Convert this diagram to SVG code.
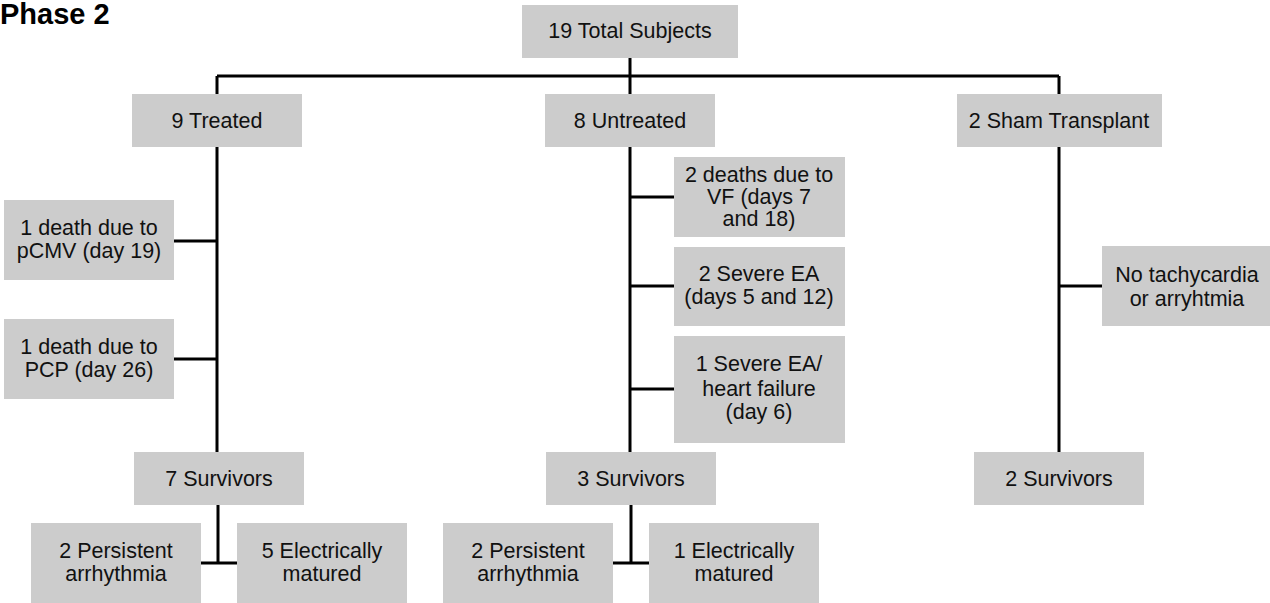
<svg xmlns="http://www.w3.org/2000/svg" width="1270" height="603" viewBox="0 0 1270 603">
<style>
.box{fill:#cccccc;}
.t{font-family:"Liberation Sans",Arial,sans-serif;font-size:21.5px;fill:#111;text-anchor:middle;}
.title{font-family:"Liberation Sans",Arial,sans-serif;font-size:29px;font-weight:bold;fill:#000;}
.c{stroke:#000;stroke-width:3;fill:none;}
</style>
<rect width="1270" height="603" fill="#fff"/>
<text class="title" x="0" y="24">Phase 2</text>
<g id="connectors">
<path class="c" d="M630,58 V94 M217,76 H1059 M217,76 V94 M1059,76 V94"/>
<path class="c" d="M217,147 V452 M174,241 H217 M174,359 H217"/>
<path class="c" d="M630,147 V452 M630,197 H674 M630,286 H674 M630,389 H674"/>
<path class="c" d="M1059,147 V452 M1059,286 H1102"/>
<path class="c" d="M218,505 V563 M201,563 H237"/>
<path class="c" d="M631,505 V563 M613,563 H649"/>
</g>
<g id="total"><rect class="box" x="522" y="5" width="216" height="53"/><text class="t" x="630" y="38">19 Total Subjects</text></g>
<g id="treated"><rect class="box" x="132" y="94" width="170" height="53"/><text class="t" x="217" y="128">9 Treated</text></g>
<g id="untreated"><rect class="box" x="545" y="94" width="170" height="53"/><text class="t" x="630" y="128">8 Untreated</text></g>
<g id="sham"><rect class="box" x="957" y="94" width="205" height="53"/><text class="t" x="1059" y="128">2 Sham Transplant</text></g>
<g id="pcmv"><rect class="box" x="4" y="200" width="170" height="80"/><text class="t" x="89" y="235">1 death due to</text><text class="t" x="89" y="258">pCMV (day 19)</text></g>
<g id="pcp"><rect class="box" x="4" y="319" width="170" height="80"/><text class="t" x="89" y="354">1 death due to</text><text class="t" x="89" y="377">PCP (day 26)</text></g>
<g id="vf"><rect class="box" x="674" y="157" width="171" height="80"/><text class="t" x="759" y="182">2 deaths due to</text><text class="t" x="759" y="204">VF (days 7</text><text class="t" x="759" y="226">and 18)</text></g>
<g id="ea"><rect class="box" x="674" y="247" width="171" height="79"/><text class="t" x="759" y="281">2 Severe EA</text><text class="t" x="759" y="304">(days 5 and 12)</text></g>
<g id="hf"><rect class="box" x="674" y="336" width="171" height="107"/><text class="t" x="759" y="371">1 Severe EA/</text><text class="t" x="759" y="396">heart failure</text><text class="t" x="759" y="419">(day 6)</text></g>
<g id="notachy"><rect class="box" x="1102" y="246" width="170" height="80"/><text class="t" x="1187" y="282">No tachycardia</text><text class="t" x="1187" y="306">or arryhtmia</text></g>
<g id="surv7"><rect class="box" x="134" y="452" width="170" height="53"/><text class="t" x="219" y="486">7 Survivors</text></g>
<g id="surv3"><rect class="box" x="546" y="452" width="170" height="53"/><text class="t" x="631" y="486">3 Survivors</text></g>
<g id="surv2"><rect class="box" x="974" y="452" width="170" height="53"/><text class="t" x="1059" y="486">2 Survivors</text></g>
<g id="persist1"><rect class="box" x="31" y="523" width="170" height="80"/><text class="t" x="116" y="558">2 Persistent</text><text class="t" x="116" y="581">arrhythmia</text></g>
<g id="elec5"><rect class="box" x="237" y="523" width="170" height="80"/><text class="t" x="322" y="558">5 Electrically</text><text class="t" x="322" y="581">matured</text></g>
<g id="persist2"><rect class="box" x="443" y="523" width="170" height="80"/><text class="t" x="528" y="558">2 Persistent</text><text class="t" x="528" y="581">arrhythmia</text></g>
<g id="elec1"><rect class="box" x="649" y="523" width="170" height="80"/><text class="t" x="734" y="558">1 Electrically</text><text class="t" x="734" y="581">matured</text></g>
</svg>
